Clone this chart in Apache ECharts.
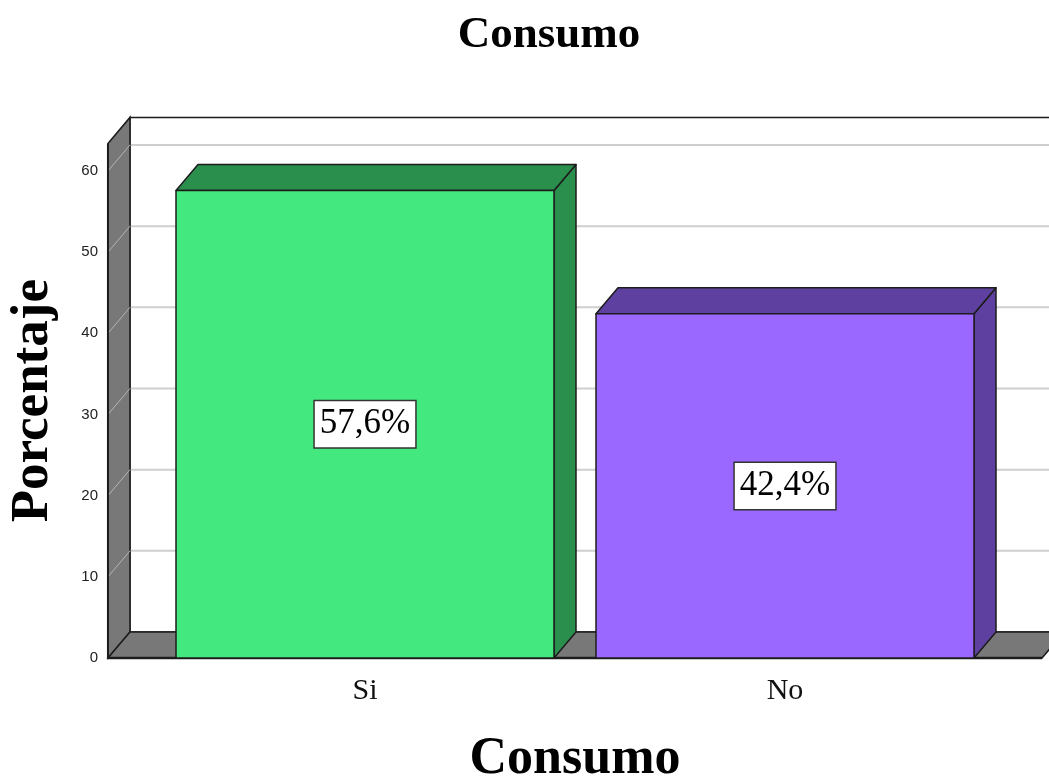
<!DOCTYPE html>
<html>
<head>
<meta charset="utf-8">
<script src="https://cdn.jsdelivr.net/npm/echarts@6/dist/echarts.min.js"></script>
<style>html,body{margin:0;padding:0;background:#fff;overflow:hidden;}#chart{width:1049px;height:776px;}</style>
</head>
<body>
<div id="chart"></div>
<script>
// ---- data ----
var categories = ['Si', 'No'];
var percentages = [57.6, 42.4];
var labelTexts = ['57,6%', '42,4%'];
var yTicks = [0, 10, 20, 30, 40, 50, 60];
var yMax = 63.4;
var frontColors = ['#43E97E', '#9A68FF'];
var sideColors = ['#2A8E4C', '#5E40A0'];

// ---- style constants ----
var DX = 22, DY = -26;           // depth offset
var WALL_EXT = 0.612;            // wall extent beyond category centres (in band units)
var BAR_FRAC = 0.9;
var EDGE = '#1c1c1c';
var SERIF = '"Liberation Serif", "Times New Roman", serif';
var SANS = '"Liberation Sans", Arial, sans-serif';

var chart = echarts.init(document.getElementById('chart'), null, {width: 1049, height: 776});

function wallsRender(params, api) {
  var band = api.size([1, 0])[0];
  var c0 = api.coord([0, 0]);
  var c1 = api.coord([categories.length - 1, 0]);
  var top = api.coord([0, yMax])[1];
  var base = c0[1];
  var xl = c0[0] - WALL_EXT * band;
  var xr = c1[0] + WALL_EXT * band;
  var kids = [];
  kids.push({type: 'polygon', shape: {points: [[xl + DX, top + DY], [xr + DX, top + DY], [xr + DX, base + DY], [xl + DX, base + DY]]},
    style: {fill: '#fff', stroke: EDGE, lineWidth: 1.5}});
  yTicks.forEach(function (t) {
    if (t === 0) return;
    var y = api.coord([0, t])[1];
    kids.push({type: 'line', shape: {x1: xl + DX, y1: y + DY, x2: xr + DX, y2: y + DY}, style: {stroke: '#cfcfcf', lineWidth: 2}});
  });
  kids.push({type: 'polygon', shape: {points: [[xl, top], [xl + DX, top + DY], [xl + DX, base + DY], [xl, base]]},
    style: {fill: '#787878', stroke: EDGE, lineWidth: 1.5}});
  yTicks.forEach(function (t) {
    if (t === 0) return;
    var y = api.coord([0, t])[1];
    kids.push({type: 'line', shape: {x1: xl, y1: y, x2: xl + DX, y2: y + DY}, style: {stroke: '#b4b4b4', lineWidth: 1}});
  });
  kids.push({type: 'polygon', shape: {points: [[xl, base], [xl + DX, base + DY], [xr + DX, base + DY], [xr, base]]},
    style: {fill: '#787878', stroke: EDGE, lineWidth: 1.5}});
  kids.push({type: 'line', shape: {x1: xl, y1: base, x2: xr, y2: base}, style: {stroke: EDGE, lineWidth: 2.5}});
  kids.push({type: 'line', shape: {x1: xl, y1: base, x2: xl, y2: top}, style: {stroke: EDGE, lineWidth: 2}});
  return {type: 'group', children: kids};
}

function barsRender(params, api) {
  var i = api.value(0);
  var v = api.value(1);
  var p = api.coord([i, v]);
  var b = api.coord([i, 0]);
  var w = api.size([1, 0])[0] * BAR_FRAC;
  var x0 = p[0] - w / 2, x1 = p[0] + w / 2, yt = p[1], yb = b[1];
  var st = {stroke: EDGE, lineWidth: 1.5, lineJoin: 'round'};
  return {type: 'group', children: [
    {type: 'polygon', shape: {points: [[x1, yt], [x1 + DX, yt + DY], [x1 + DX, yb + DY], [x1, yb]]},
      style: Object.assign({fill: sideColors[params.dataIndex]}, st)},
    {type: 'polygon', shape: {points: [[x0, yt], [x0 + DX, yt + DY], [x1 + DX, yt + DY], [x1, yt]]},
      style: Object.assign({fill: sideColors[params.dataIndex]}, st)},
    {type: 'rect', shape: {x: x0, y: yt, width: w, height: yb - yt},
      style: Object.assign({fill: frontColors[params.dataIndex]}, st)},
    {type: 'text', x: p[0], y: (yt + yb) / 2,
      style: {text: labelTexts[params.dataIndex], fill: '#000', font: '35px ' + SERIF,
        align: 'center', verticalAlign: 'middle', backgroundColor: '#fff',
        borderColor: '#333', borderWidth: 1.5, padding: [7, 5, 4, 5]}}
  ]};
}

var barData = categories.map(function (c, i) { return [i, percentages[i]]; });

chart.setOption({
  backgroundColor: '#fff',
  animation: false,
  title: {
    text: 'Consumo', left: 544, top: 8, textAlign: 'center',
    textStyle: {fontFamily: SERIF, fontWeight: 'bold', fontSize: 45, color: '#000'}
  },
  grid: {left: 155, width: 840, top: 143.4, height: 514.6, containLabel: false, outerBoundsMode: 'none'},
  xAxis: {
    type: 'category', data: categories,
    axisLine: {show: false}, axisTick: {show: false}, splitLine: {show: false},
    axisLabel: {margin: 18, fontFamily: SERIF, fontSize: 30, color: '#111'},
    name: 'Consumo', nameLocation: 'middle', nameGap: 76,
    nameTextStyle: {fontFamily: SERIF, fontWeight: 'bold', fontSize: 52, color: '#000'}
  },
  yAxis: {
    type: 'value', min: 0, max: yMax, interval: 10, offset: 47,
    axisLine: {show: false}, axisTick: {show: false}, splitLine: {show: false},
    axisLabel: {margin: 10, showMaxLabel: false, fontFamily: SANS, fontSize: 15, color: '#222'},
    name: 'Porcentaje', nameLocation: 'middle', nameGap: 48, nameRotate: 90,
    nameTextStyle: {fontFamily: SERIF, fontWeight: 'bold', fontSize: 53, color: '#000'}
  },
  series: [
    {type: 'custom', renderItem: wallsRender, data: [[0, 0]], clip: false, silent: true, z: 1},
    {type: 'custom', renderItem: barsRender, data: barData, clip: false, z: 2}
  ]
});
</script>
</body>
</html>
